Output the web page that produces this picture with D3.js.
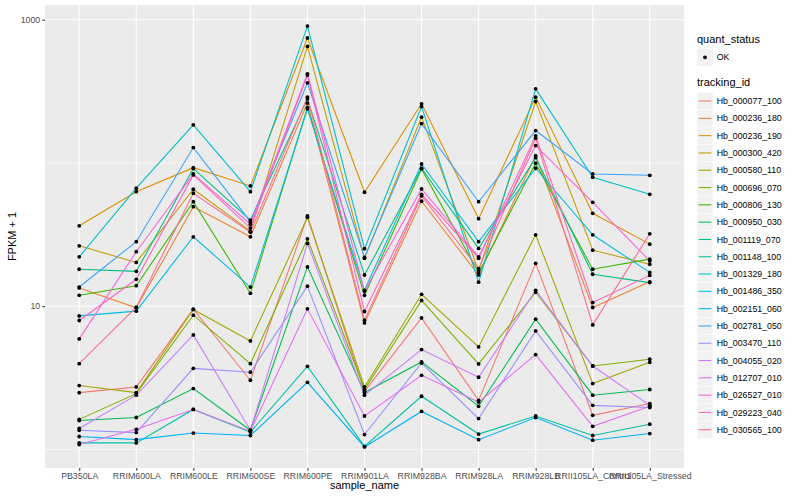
<!DOCTYPE html>
<html>
<head>
<meta charset="utf-8">
<script src="https://cdn.jsdelivr.net/npm/d3@7"></script>
<style>
  body { margin: 0; background: #fff; }
  text { font-family: "Liberation Sans", Arial, sans-serif; }
</style>
</head>
<body>
<div id="chart"></div>
<script>
// samples on the x axis
const samples = ["PB350LA", "RRIM600LA", "RRIM600LE", "RRIM600SE", "RRIM600PE", "RRIM901LA",
  "RRIM928BA", "RRIM928LA", "RRIM928LB", "RRII105LA_Control", "RRII105LA_Stressed"]

const trackingIds = ["Hb_000077_100", "Hb_000236_180", "Hb_000236_190", "Hb_000300_420", "Hb_000580_110",
  "Hb_000696_070", "Hb_000806_130", "Hb_000950_030", "Hb_001119_070", "Hb_001148_100",
  "Hb_001329_180", "Hb_001486_350", "Hb_002151_060", "Hb_002781_050", "Hb_003470_110",
  "Hb_004055_020", "Hb_012707_010", "Hb_026527_010", "Hb_029223_040", "Hb_030565_100"]

const colors = ["#F8766D", "#EA8331", "#D89000", "#C09B00", "#A3A500", "#7CAE00", "#39B600", "#00BB4E",
  "#00BF7D", "#00C1A3", "#00BFC4", "#00BAE0", "#00B0F6", "#35A2FF", "#9590FF", "#C77CFF",
  "#E76BF3", "#FA62DB", "#FF62BC", "#FF6C91"]

// FPKM + 1, one value per sample
const hb_000077_100 = [2.49, 2.73, 9.53, 3.04, 42.6, 2.54, 8.28, 2.20, 19.9, 1.73, 2.09]
const hb_000236_180 = [13.4, 9.73, 49.5, 30.5, 261.6, 7.64, 54.0, 16.5, 112.5, 9.79, 14.8]
const hb_000236_190 = [36.4, 63.0, 92.7, 69.1, 745, 62.4, 258.6, 40.8, 288, 44.5, 27.1]
const hb_000300_420 = [26.4, 20.2, 65.5, 33.4, 651, 21.6, 208.7, 17.7, 268.4, 24.6, 19.6]
const hb_000580_110 = [2.79, 2.49, 9.48, 5.72, 41.7, 2.73, 12.1, 5.19, 31.5, 2.88, 4.06]
const hb_000696_070 = [1.62, 2.45, 8.65, 3.97, 29.5, 2.62, 10.96, 3.95, 12.5, 3.82, 4.26]
const hb_000806_130 = [11.9, 13.9, 53.6, 12.3, 243.6, 11.9, 90.8, 17.1, 99.5, 18.1, 21.3]
const hb_000950_030 = [1.59, 1.67, 2.66, 1.36, 18.8, 2.50, 4.08, 2.00, 8.11, 2.39, 2.62]
const hb_001119_070 = [18.1, 17.5, 91.3, 39.9, 279, 16.5, 91.8, 25.3, 108.9, 16.7, 14.6]
const hb_001148_100 = [1.11, 1.11, 1.90, 1.32, 3.80, 1.05, 2.35, 1.28, 1.71, 1.25, 1.50]
const hb_001329_180 = [22.1, 66.6, 184.4, 63.0, 903, 25.2, 247.6, 14.7, 329, 79.4, 60.4]
const hb_001486_350 = [8.55, 9.23, 30.5, 13.6, 238.5, 12.9, 98.4, 28.2, 91.8, 31.5, 17.2]
const hb_002151_060 = [1.23, 1.17, 1.30, 1.25, 2.94, 1.04, 1.84, 1.17, 1.67, 1.16, 1.29]
const hb_002781_050 = [13.6, 28.2, 128, 38.9, 362.6, 21.9, 188.3, 53.6, 168.2, 83.8, 82.0]
const hb_003470_110 = [1.36, 1.31, 3.68, 3.46, 13.8, 1.27, 4.01, 1.64, 6.72, 2.03, 1.96]
const hb_004055_020 = [1.40, 2.39, 6.30, 1.36, 27.4, 2.39, 4.98, 3.19, 12.9, 3.82, 2.03]
const hb_012707_010 = [1.08, 1.38, 1.90, 1.34, 9.58, 1.71, 3.29, 2.14, 4.59, 1.45, 2.00]
const hb_026527_010 = [5.91, 24.0, 83.8, 37.3, 419, 12.7, 65.8, 22.1, 132.1, 53.1, 20.7]
const hb_029223_040 = [7.94, 15.4, 82.4, 35.1, 410.6, 9.18, 60.4, 21.6, 154.5, 10.6, 16.4]
const hb_030565_100 = [3.97, 9.84, 61.4, 32.8, 288, 7.98, 58.8, 18.3, 148.8, 7.40, 32.0]

const seriesValues = [hb_000077_100, hb_000236_180, hb_000236_190, hb_000300_420, hb_000580_110,
  hb_000696_070, hb_000806_130, hb_000950_030, hb_001119_070, hb_001148_100,
  hb_001329_180, hb_001486_350, hb_002151_060, hb_002781_050, hb_003470_110,
  hb_004055_020, hb_012707_010, hb_026527_010, hb_029223_040, hb_030565_100]

const yMajor = [10, 1000]
const yMinor = [1, 100]

const W = 800, H = 500
const panel = {left: 45, right: 684, top: 5, bottom: 468}

let svg = d3.select("#chart")
  .append("svg")
  .attr("width", W)
  .attr("height", H)

let x = d3.scalePoint()
  .domain(samples)
  .range([panel.left, panel.right])
  .padding(0.6)

// log scale with ggplot-like 5% expansion in log space
let all = seriesValues.flat()
let lo = Math.log10(d3.min(all)), hi = Math.log10(d3.max(all))
let pad = (hi - lo) * 0.05
let y = d3.scaleLog()
  .domain([Math.pow(10, lo - pad), Math.pow(10, hi + pad)])
  .range([panel.bottom, panel.top])

svg.append("rect")
  .attr("x", panel.left)
  .attr("y", panel.top)
  .attr("width", panel.right - panel.left)
  .attr("height", panel.bottom - panel.top)
  .attr("fill", "#EBEBEB")

svg.selectAll(".minor")
  .data(yMinor)
  .enter().append("line")
  .attr("x1", panel.left).attr("x2", panel.right)
  .attr("y1", d => y(d)).attr("y2", d => y(d))
  .attr("stroke", "#fff").attr("stroke-width", 0.55)

svg.selectAll(".major")
  .data(yMajor)
  .enter().append("line")
  .attr("x1", panel.left).attr("x2", panel.right)
  .attr("y1", d => y(d)).attr("y2", d => y(d))
  .attr("stroke", "#fff").attr("stroke-width", 1.07)

svg.selectAll(".vgrid")
  .data(samples)
  .enter().append("line")
  .attr("x1", d => x(d)).attr("x2", d => x(d))
  .attr("y1", panel.top).attr("y2", panel.bottom)
  .attr("stroke", "#fff").attr("stroke-width", 1.07)

// lines
let line = d3.line()
  .x((d, i) => x(samples[i]))
  .y(d => y(d))

svg.selectAll(".series")
  .data(seriesValues)
  .enter().append("path")
  .attr("d", d => line(d))
  .attr("fill", "none")
  .attr("stroke", (d, i) => colors[i])
  .attr("stroke-width", 1.07)

// points
seriesValues.forEach(vals => {
  svg.selectAll(null)
    .data(vals)
    .enter().append("circle")
    .attr("cx", (d, i) => x(samples[i]))
    .attr("cy", d => y(d))
    .attr("r", 1.9)
    .attr("fill", "#000")
})

// axes
let xAxis = svg.append("g")
  .attr("transform", `translate(0,${panel.bottom})`)
  .call(d3.axisBottom(x).tickSize(2.75).tickPadding(2))
let yAxis = svg.append("g")
  .attr("transform", `translate(${panel.left},0)`)
  .call(d3.axisLeft(y).tickValues(yMajor).tickFormat(d3.format("d")).tickSize(2.75).tickPadding(2))

;[xAxis, yAxis].forEach(a => {
  a.select(".domain").remove()
  a.selectAll(".tick line").attr("stroke", "#333333").attr("stroke-width", 1.07)
  a.selectAll(".tick text").attr("fill", "#4D4D4D").style("font-size", "8.8px")
    .style("font-family", "'Liberation Sans', Arial, sans-serif")
})

svg.append("text")
  .attr("x", (panel.left + panel.right) / 2)
  .attr("y", 489)
  .attr("text-anchor", "middle")
  .style("font-size", "11px")
  .text("sample_name")

svg.append("text")
  .attr("transform", `translate(16,${(panel.top + panel.bottom) / 2}) rotate(-90)`)
  .attr("text-anchor", "middle")
  .style("font-size", "11px")
  .text("FPKM + 1")

// legend
let lg = svg.append("g")
let keyX = 697, keyW = 16, keyH = 17.3

lg.append("text").attr("x", keyX).attr("y", 43).style("font-size", "11px").text("quant_status")
lg.append("rect").attr("x", keyX).attr("y", 48.7).attr("width", keyW).attr("height", keyH).attr("fill", "#F2F2F2")
lg.append("circle").attr("cx", keyX + keyW / 2).attr("cy", 48.7 + keyH / 2).attr("r", 1.9).attr("fill", "#000")
lg.append("text").attr("x", 716.7).attr("y", 48.7 + keyH / 2).attr("dy", "0.35em")
  .style("font-size", "8.8px").text("OK")

lg.append("text").attr("x", keyX).attr("y", 86).style("font-size", "11px").text("tracking_id")

let rows = lg.selectAll(".row")
  .data(trackingIds)
  .enter().append("g")
  .attr("transform", (d, i) => `translate(${keyX},${92.4 + i * keyH})`)

rows.append("rect").attr("width", keyW).attr("height", keyH).attr("fill", "#F2F2F2")
  .attr("stroke", "#fff").attr("stroke-width", 0.5)
rows.append("line")
  .attr("x1", 1.7).attr("x2", keyW - 1.7)
  .attr("y1", keyH / 2).attr("y2", keyH / 2)
  .attr("stroke", (d, i) => colors[i]).attr("stroke-width", 1.07)
rows.append("text")
  .attr("x", 716.7 - keyX).attr("y", keyH / 2).attr("dy", "0.35em")
  .style("font-size", "8.8px")
  .text(d => d)
</script>
</body>
</html>
